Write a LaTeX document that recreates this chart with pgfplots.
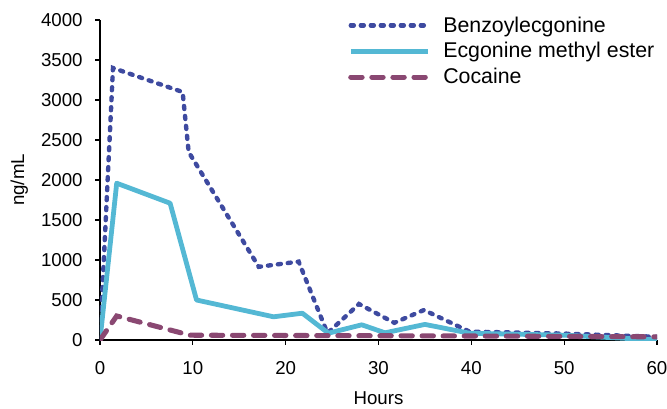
\documentclass[border=0pt]{standalone}
\usepackage{fontspec}
\setmainfont{Liberation Sans}
\usepackage{pgfplots}
\pgfplotsset{compat=1.18}

\definecolor{benzo}{RGB}{62,74,160}
\definecolor{ecgo}{RGB}{84,184,212}
\definecolor{coca}{RGB}{138,72,114}

\begin{document}
\begin{tikzpicture}
  \begin{axis}[
    name=ax,
    at={(0,0)}, anchor=origin,
    scale only axis,
    width=417.75pt, height=240pt,
    xmin=0, xmax=60, ymin=0, ymax=4000,
    xtick={0,10,20,30,40,50,60},
    ytick={0,500,1000,1500,2000,2500,3000,3500,4000},
    axis lines=left,
    axis line style={-, line width=1pt, black},
    tick style={black, line width=0.9pt},
    tick align=outside,
    major tick length=3.5pt,
    font=\fontsize{14}{16}\selectfont,
    /pgf/number format/assume math mode=true,
    scaled y ticks=false,
    yticklabel style={/pgf/number format/1000 sep={}, xshift=-6pt},
    xticklabel style={yshift=-9pt},
    xlabel={Hours},
    ylabel={ng/mL},
    xlabel style={yshift=-6pt},
    ylabel style={yshift=3pt},
    legend cell align=left,
    legend style={
      at={(0.438,1.028)}, anchor=north west,
      draw=none, fill=none,
      font=\fontsize{16}{17}\selectfont,
      row sep=2.3pt,
      nodes={inner sep=2pt},
      /tikz/every odd column/.append style={column sep=7.5pt},
    },
    legend image code/.code={\draw[#1] (0pt,0pt) -- (58pt,0pt);},
  ]
    \addplot[benzo, line width=3.3pt, line cap=round, dash pattern=on 2.3pt off 5.2pt]
      coordinates {
        (0,0) (1.4,3400) (8.9,3100) (9.55,2350) (17.1,915) (21.4,980)
        (24.5,85) (27.9,450) (31.7,215) (34.9,375) (39.8,105) (50,80) (60,40)
      };
    \addlegendentry{Benzoylecgonine}

    \addplot[ecgo, line width=3.6pt, line join=round]
      coordinates {
        (0,0) (1.8,1960) (7.55,1710) (10.4,500) (18.7,290) (21.8,335)
        (24.6,85) (28.2,190) (30.7,90) (35,195) (39.8,85) (50,60) (60,0)
      };
    \addlegendentry{Ecgonine methyl ester}

    \addplot[coca, line width=3.8pt, line cap=round, dash pattern=on 8.5pt off 7.3pt]
      coordinates {
        (0,0) (1.8,300) (9.7,60) (25,55) (40,50) (60,40)
      };
    \addlegendentry{Cocaine}
  \end{axis}
  \pgfresetboundingbox
  \path (-75pt,-51pt) rectangle (425.25pt,255pt);
\end{tikzpicture}
\end{document}
